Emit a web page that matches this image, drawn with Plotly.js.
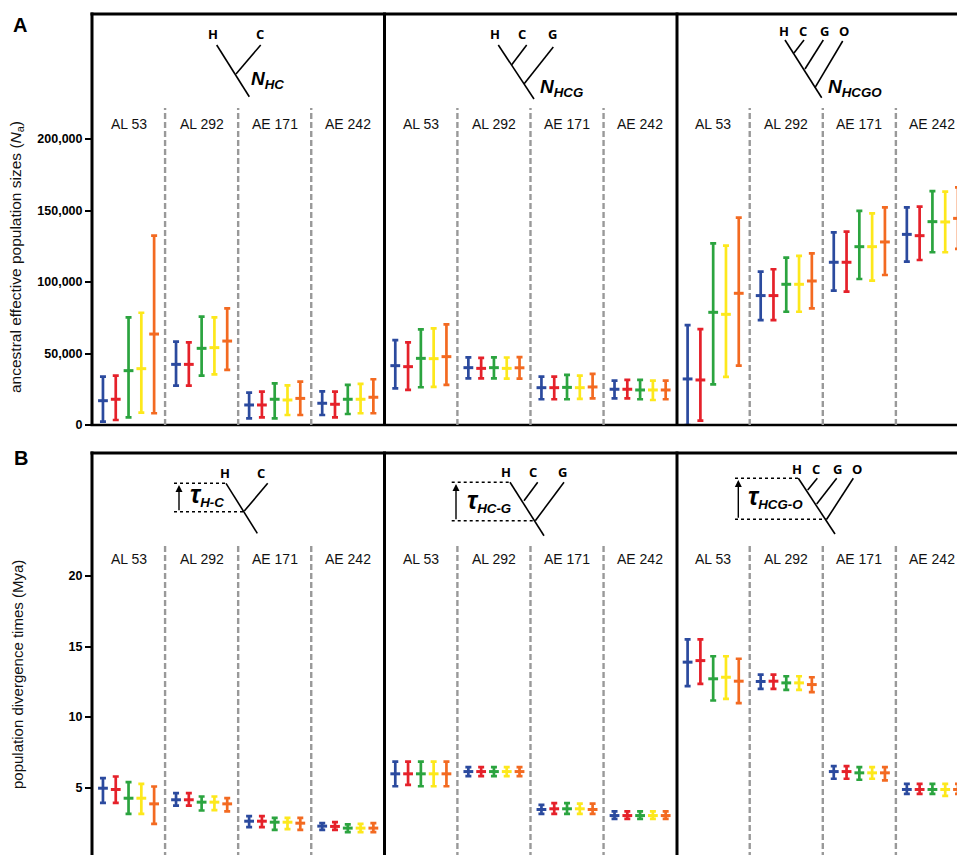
<!DOCTYPE html>
<html><head><meta charset="utf-8">
<script src="https://cdn.plot.ly/plotly-3.0.1.min.js"></script>
<style>html,body{margin:0;padding:0;overflow:hidden;background:#fff;width:957px;height:855px}</style>
</head><body><div id="chart"></div>
<script>
// ---------- data ----------
const columnLabels = ['AL 53','AL 292','AE 171','AE 242'];
const seriesColors = ['#2b4a9e','#e5212a','#2ba43f','#fde81c','#f36a21'];
// Panel A: ancestral effective population size, [low, mid, high] per column
// 12 columns: N_HC (4), N_HCG (4), N_HCGO (4)
const naBlue = [[2300,17000,33800],[27500,42400,58300],[4700,14000,22600],[7000,15200,23500],
  [25600,41500,59400],[32600,40100,47300],[18000,26100,33800],[18600,25000,31000],
  [0,32200,69900],[73400,90500,107200],[93900,113800,134700],[114200,133300,152200]];
const naRed = [[3500,18000,34500],[27500,42400,57800],[5400,14000,23300],[5400,14500,23300],
  [24500,40800,57800],[32600,39600,47000],[18000,26100,33800],[18600,25000,31500],
  [3000,31500,67100],[73400,90500,108900],[93200,113800,135200],[115400,132400,152700]];
const naGreen = [[5400,38000,75300],[34500,53600,75800],[4700,18000,29100],[7700,18000,28000],
  [26400,46600,66900],[32600,40100,47300],[18000,26300,35000],[18000,24500,31500],
  [28400,78800,127000],[79200,98400,117000],[102100,124700,149700],[120800,142200,163600]];
const naYellow = [[8600,39400,78500],[35400,54100,75300],[7000,17500,27700],[8200,18000,28700],
  [26600,46400,67600],[32400,39600,47200],[18300,26100,34500],[17500,24500,31000],
  [33600,77400,125400],[79200,98400,118200],[100900,124700,148000],[120800,142000,163200]];
const naOrange = [[8200,63600,132400],[38500,58700,81600],[7000,18600,30300],[8200,19400,32000],
  [28000,47800,70400],[32400,40000,47400],[18600,26600,35700],[18000,24500,31000],
  [41500,92100,145000],[81600,100700,120000],[104900,128000,152200],[123100,144500,166200]];
// Panel B: population divergence times (Mya), [low, mid, high]
const tauBlue = [[3.91,4.95,5.66],[3.72,4.13,4.6],[2.19,2.61,2.97],[2.0,2.26,2.47],
  [5.09,5.97,6.84],[5.8,6.13,6.44],[3.13,3.44,3.77],[2.78,3.01,3.3],
  [12.19,13.89,15.5],[12.0,12.52,13.01],[5.62,6.13,6.51],[4.55,4.86,5.26]];
const tauRed = [[3.91,4.86,5.78],[3.72,4.13,4.6],[2.19,2.61,2.97],[2.0,2.24,2.54],
  [5.19,5.97,6.84],[5.8,6.13,6.44],[3.13,3.49,3.89],[2.78,3.01,3.3],
  [12.35,14.0,15.5],[12.0,12.54,13.01],[5.62,6.13,6.51],[4.55,4.86,5.26]];
const tauGreen = [[3.13,4.24,5.38],[3.37,3.96,4.36],[2.0,2.54,2.85],[1.83,2.12,2.38],
  [5.09,5.97,6.84],[5.8,6.13,6.44],[3.13,3.49,3.89],[2.78,3.01,3.3],
  [11.17,12.71,14.31],[11.93,12.42,12.89],[5.55,6.04,6.44],[4.55,4.86,5.26]];
const tauYellow = [[3.13,4.24,5.26],[3.4,3.96,4.36],[2.05,2.54,2.85],[1.83,2.12,2.42],
  [5.09,5.97,6.84],[5.8,6.13,6.44],[3.13,3.49,3.85],[2.78,3.01,3.3],
  [11.29,12.82,14.31],[11.93,12.42,12.89],[5.62,6.04,6.44],[4.4,4.86,5.26]];
const tauOrange = [[2.42,3.84,5.07],[3.3,3.84,4.24],[2.0,2.47,2.85],[1.83,2.12,2.47],
  [5.09,5.97,6.84],[5.8,6.13,6.44],[3.13,3.44,3.85],[2.78,3.01,3.3],
  [10.98,12.54,14.13],[11.76,12.3,12.82],[5.51,6.04,6.44],[4.55,4.86,5.26]];
const naTickVals = [0,50000,100000,150000,200000];
const naTickText = ['0','50,000','100,000','150,000','200,000'];
const tauTickVals = [0,5,10,15,20];

// ---------- geometry ----------
const W=957, H=861, T=14, B=3, L=92;
const PW=W-L, PH=H-T-B;
const COLW=73.08;
const px = x => (x-L)/PW;
const py = y => (H-B-y)/PH;
const xMax = PW/COLW;
const naMax = (425-14)/286*200000;
const tauMax = (858-453)/14.1;

function mk(data, color, i, xa, ya){
  return {type:'scatter', mode:'markers', xaxis:xa, yaxis:ya, cliponaxis:true,
    x: data.map((d,j)=> j+0.5+(i-2)*0.175),
    y: data.map(d=>d[1]),
    marker:{symbol:'line-ew', size:7, color:color, line:{color:color, width:3}},
    error_y:{type:'data', symmetric:false, array:data.map(d=>d[2]-d[1]), arrayminus:data.map(d=>d[1]-d[0]),
      color:color, thickness:2.7, width:3},
    hoverinfo:'skip', showlegend:false};
}
const traces = [];
[naBlue,naRed,naGreen,naYellow,naOrange].forEach((d,i)=>traces.push(mk(d,seriesColors[i],i,'x','y')));
[tauBlue,tauRed,tauGreen,tauYellow,tauOrange].forEach((d,i)=>traces.push(mk(d,seriesColors[i],i,'x2','y2')));

const shapes=[], annotations=[];
function seg(x0,y0,x1,y1,w,dash,color){
  shapes.push({type:'line', xref:'paper', yref:'paper', x0:px(x0), y0:py(y0), x1:px(x1), y1:py(y1),
    line:{color:color||'#000', width:w||1.5, dash:dash||'solid'}});
}
function note(x,y,text,font,extra){
  annotations.push(Object.assign({xref:'paper', yref:'paper', x:px(x), y:py(y), text:text, showarrow:false,
    xanchor:'center', yanchor:'middle', font:font}, extra||{}));
}
// panel borders
[[14,425],[453,858]].forEach(([top,bot])=>{
  [92,384.5,677].forEach(x=>seg(x,top-1.5,x,bot+1,3));
  seg(90.5,top,958,top,3);
  seg(90.5,bot,958,bot,2.6);
});
// dashed column separators
[1,2,3,5,6,7,9,10,11].forEach(k=>{
  shapes.push({type:'line', xref:'x', yref:'paper', x0:k, x1:k, y0:py(425), y1:py(108), line:{color:'#999', width:2.4, dash:'6px,3px'}});
  shapes.push({type:'line', xref:'x2', yref:'paper', x0:k, x1:k, y0:py(858), y1:py(545), line:{color:'#999', width:2.4, dash:'6px,3px'}});
});
// column labels
for(let j=0;j<12;j++){
  const lab = columnLabels[j%4];
  const f = {family:'Arial', size:14, color:'#111'};
  annotations.push({xref:'x', yref:'paper', x:j+0.5, y:py(124), xanchor:'center', yanchor:'middle', text:lab, showarrow:false, font:f});
  annotations.push({xref:'x2', yref:'paper', x:j+0.5, y:py(559), xanchor:'center', yanchor:'middle', text:lab, showarrow:false, font:f});
}
// tree diagrams
const treeLines = [
  [216.7,45,249.3,96.7],[260.7,45,236,74],
  [498.3,45,534,99],[526.7,45,511.7,64.7],[553.3,47,524,84],
  [785,40,821.7,97.7],[804,40,794,53],[823.3,40,805,69],[842.7,41,815,87.7],
  [226,483.3,257.3,533.3],[267.7,483.3,244.3,511],
  [510,482.3,544,535.7],[537.7,482.3,524,500.7],[564,482.3,535.3,520.7],
  [798.3,478.3,835,534],[817.3,478.3,807.7,490],[836.7,478.3,816.7,504],[853.3,478.3,826.7,519.3]];
treeLines.forEach(s=>seg(s[0],s[1],s[2],s[3],1.6));
const dotLines = [[174,483.3,226,483.3],[174,511.7,244.3,511.7],
  [451.7,482.3,510,482.3],[451.7,520.7,535.3,520.7],
  [735,478.3,798.3,478.3],[735,519.3,826.7,519.3]];
dotLines.forEach(s=>seg(s[0],s[1],s[2],s[3],1.6,'dot'));
[[179,511.7,485],[456,520.7,484],[738.3,519.3,480]].forEach(a=>{
  annotations.push({xref:'paper', yref:'paper', x:px(a[0]), y:py(a[2]), ax:0, ay:a[1]-a[2], text:'', showarrow:true,
    arrowhead:2, arrowsize:1, arrowwidth:1.4, arrowcolor:'#000'});
});
const leaf = [['H',213,34],['C',260,34],['H',495,34],['C',521.7,34],['G',552,34],
  ['H',784.3,31],['C',802.7,31],['G',824,31],['O',844,31],
  ['H',225,472.7],['C',261,472.7],['H',506,471.7],['C',532.7,471.7],['G',562.7,471.7],
  ['H',797,469],['C',815.7,469],['G',837.7,469],['O',856.7,469]];
leaf.forEach(l=>note(l[1],l[2],'<b>'+l[0]+'</b>',{family:'Open Sans', size:13, color:'#000'}));
const tau = '<b><i><span style="font-size:25px">τ</span></i></b>';
const symLabels = [
  ['<b><i>N</i></b><sub><b><i>HC</i></b></sub>',249,80],
  ['<b><i>N</i></b><sub><b><i>HCG</i></b></sub>',538,88],
  ['<b><i>N</i></b><sub><b><i>HCGO</i></b></sub>',826,88],
  [tau+'<sub><b><i>H-C</i></b></sub>',188,495],
  [tau+'<sub><b><i>HC-G</i></b></sub>',465,501],
  [tau+'<sub><b><i>HCG-O</i></b></sub>',746,497]];
symLabels.forEach(s=>note(s[1],s[2],s[0],{family:'Arial', size:19, color:'#000'},{xanchor:'left'}));
// panel letters and axis titles
note(20,25,'<b>A</b>',{family:'Arial', size:20, color:'#000'});
note(20.5,457.5,'<b>B</b>',{family:'Arial', size:20, color:'#000'});
note(17,257,'ancestral effective population sizes (<i>N</i><sub>a</sub>)',{family:'Arial', size:15.5, color:'#111'},{textangle:-90});
note(17,675,'population divergence times (Mya)',{family:'Arial', size:15, color:'#111'},{textangle:-90});

const yCommon = {ticks:'outside', ticklen:6, tickwidth:2, tickcolor:'#000', showline:false, showgrid:false, zeroline:false,
  tickfont:{family:'Arial', size:12.5, color:'#000', weight:'bold'}, fixedrange:true};
const layout = {
  width:W, height:H, margin:{l:L, r:0, t:T, b:B, pad:0}, paper_bgcolor:'#fff', plot_bgcolor:'#fff',
  xaxis:{domain:[0,1], range:[0,xMax], anchor:'y', showgrid:false, zeroline:false, showticklabels:false, ticks:'', showline:false},
  xaxis2:{domain:[0,1], range:[0,xMax], anchor:'y2', showgrid:false, zeroline:false, showticklabels:false, ticks:'', showline:false},
  yaxis:Object.assign({domain:[py(425),1], range:[0,naMax], anchor:'x', tickvals:naTickVals, ticktext:naTickText}, yCommon),
  yaxis2:Object.assign({domain:[0,py(453)], range:[0,tauMax], anchor:'x2', tickvals:tauTickVals, ticktext:tauTickVals.map(String)}, yCommon),
  shapes:shapes, annotations:annotations, showlegend:false
};
Plotly.newPlot('chart', traces, layout, {displayModeBar:false, staticPlot:true});
</script></body></html>
